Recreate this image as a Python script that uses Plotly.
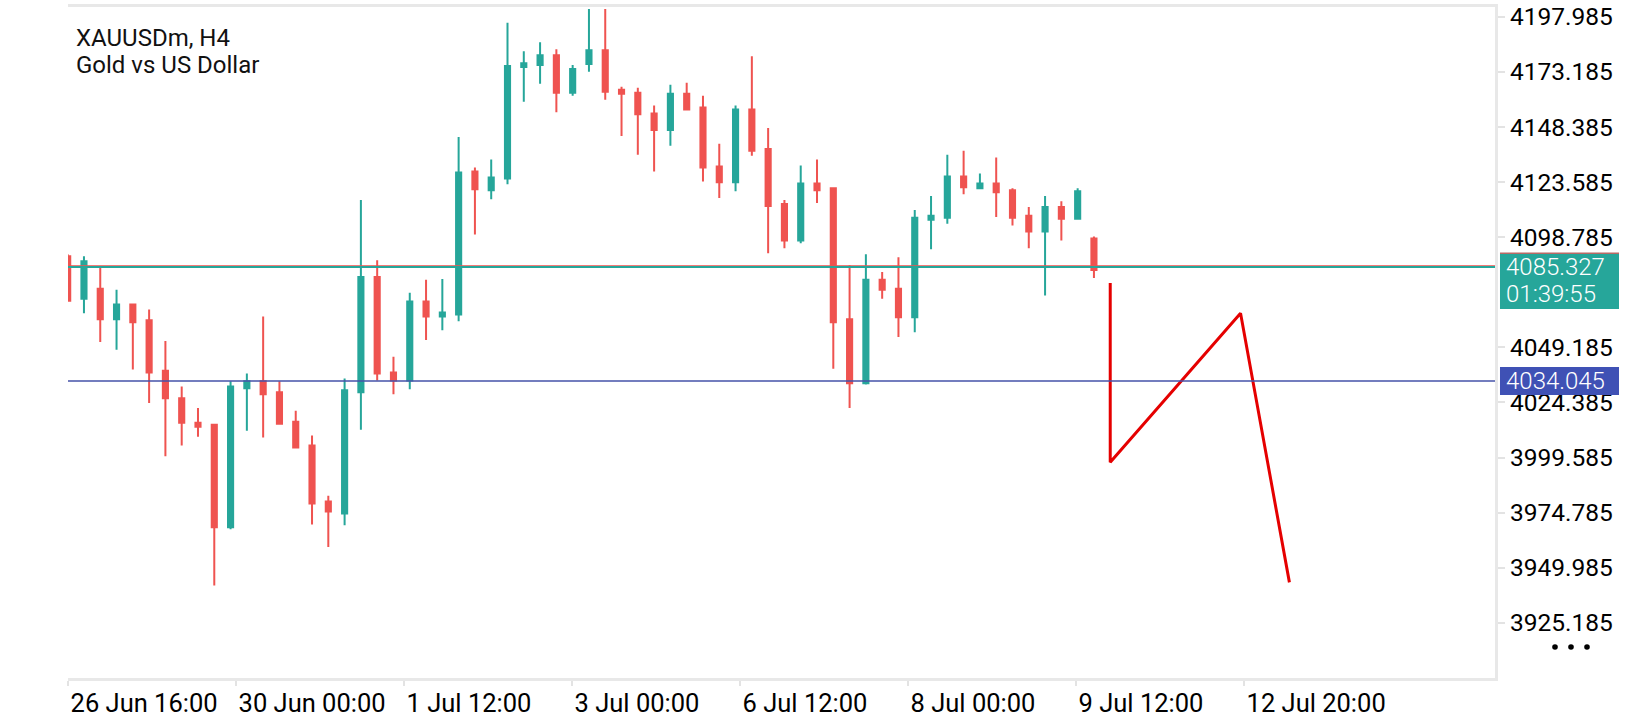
import plotly.graph_objects as go

# H4 candles (bar 0 is cut by the left edge)
opens = [4090.2, 4071.1, 4075.6, 4061.8, 4068.5, 4061.4, 4038.7, 4026.3, 4015.2, 4014.3,
         3968.2, 4030.8, 4033.9, 4029.0, 4015.7, 4005.0, 3979.8, 3974.4, 4029.0, 4080.9,
         4037.9, 4034.3, 4069.8, 4063.1, 4064.0, 4128.3, 4119.9, 4125.2, 4175.4, 4176.3,
         4180.7, 4163.8, 4176.7, 4182.9, 4165.2, 4163.8, 4154.5, 4147.0, 4163.4, 4157.2,
         4130.6, 4123.5, 4156.3, 4138.5, 4113.7, 4097.3, 4123.0, 4120.8, 4061.8, 4033.0,
         4079.6, 4075.6, 4062.7, 4106.6, 4107.5, 4126.1, 4120.8, 4123.0, 4119.9, 4108.4,
         4101.3, 4112.4, 4107.1, 4098.2]
highs = [4091.1, 4090.2, 4084.9, 4075.1, 4068.5, 4066.2, 4052.1, 4031.6, 4021.9, 4014.6,
         4033.9, 4037.4, 4063.1, 4033.9, 4020.6, 4009.5, 3982.4, 4035.2, 4115.5, 4088.4,
         4045.0, 4073.8, 4079.6, 4080.0, 4143.9, 4130.1, 4133.7, 4195.3, 4182.5, 4186.5,
         4183.4, 4176.3, 4201.5, 4201.5, 4166.5, 4166.1, 4158.1, 4167.4, 4168.3, 4162.5,
         4140.8, 4158.1, 4180.2, 4147.9, 4115.5, 4131.0, 4133.7, 4121.3, 4086.2, 4091.1,
         4083.1, 4089.8, 4111.0, 4117.3, 4135.9, 4137.7, 4127.5, 4134.6, 4120.8, 4112.4,
         4117.3, 4115.0, 4120.8, 4099.1]
lows = [4070.2, 4064.5, 4051.6, 4048.1, 4039.2, 4024.1, 4000.2, 4005.0, 4009.0, 3942.0,
        3967.3, 4011.7, 4008.6, 4014.3, 4004.1, 3969.5, 3959.3, 3969.1, 4012.1, 4034.3,
        4028.1, 4030.3, 4052.5, 4056.9, 4060.9, 4100.0, 4115.9, 4122.6, 4159.8, 4167.8,
        4155.0, 4162.5, 4173.2, 4160.7, 4144.3, 4135.9, 4128.3, 4139.9, 4156.3, 4123.9,
        4116.4, 4119.5, 4135.4, 4091.5, 4093.8, 4096.0, 4114.2, 4039.6, 4021.9, 4032.5,
        4071.1, 4053.8, 4056.0, 4093.3, 4104.8, 4118.1, 4120.4, 4107.9, 4104.0, 4093.8,
        4072.5, 4097.3, 4107.1, 4080.4]
closes = [4070.2, 4088.0, 4061.8, 4068.5, 4060.5, 4037.9, 4026.3, 4015.2, 4013.5, 3968.2,
          4031.6, 4033.9, 4028.1, 4014.8, 4004.1, 3978.9, 3975.3, 4029.9, 4080.9, 4037.4,
          4034.3, 4069.8, 4063.1, 4064.9, 4127.9, 4120.4, 4125.7, 4175.8, 4177.1, 4180.7,
          4163.8, 4174.5, 4182.9, 4164.3, 4163.4, 4154.1, 4147.0, 4163.4, 4156.3, 4130.1,
          4123.5, 4156.3, 4137.7, 4112.8, 4097.3, 4123.0, 4119.9, 4060.5, 4033.0, 4079.6,
          4075.1, 4062.7, 4107.5, 4108.4, 4126.1, 4121.3, 4123.0, 4119.0, 4107.5, 4101.3,
          4112.4, 4107.1, 4119.5, 4084.0]
bars = list(range(len(closes)))

# hand drawn zigzag (bar number, price)
zigzag_bar = [64, 64, 72, 75]
zigzag_price = [4078.2, 3997.5, 4064.5, 3943.4]

price_now = 4085.327
countdown = "01:39:55"
level_price = 4034.045

price_ticks = [4197.985, 4173.185, 4148.385, 4123.585, 4098.785, 4049.185,
               4024.385, 3999.585, 3974.785, 3949.985, 3925.185]
time_labels = ["26 Jun 16:00", "30 Jun 00:00", "1 Jul 12:00", "3 Jul 00:00",
               "6 Jul 12:00", "8 Jul 00:00", "9 Jul 12:00", "12 Jul 20:00"]

UP = "#26A69A"
DOWN = "#EF5350"
BLUE = "#3F51B5"
FONT = "Roboto"

fig = go.Figure()
fig.add_trace(go.Candlestick(
    x=bars, open=opens, high=highs, low=lows, close=closes,
    increasing=dict(line=dict(color=UP, width=2), fillcolor=UP),
    decreasing=dict(line=dict(color=DOWN, width=2), fillcolor=DOWN),
    showlegend=False, hoverinfo="skip"))

# price lines
fig.add_shape(type="line", xref="paper", x0=0, x1=1, yref="y", y0=level_price, y1=level_price,
              line=dict(color="#4452A8", width=1.5))
fig.add_shape(type="line", xref="paper", x0=0, x1=1, yref="y", y0=price_now + 0.6, y1=price_now + 0.6,
              line=dict(color=DOWN, width=1))
fig.add_shape(type="line", xref="paper", x0=0, x1=1, yref="y", y0=price_now, y1=price_now,
              line=dict(color=UP, width=2))

fig.add_trace(go.Scatter(x=zigzag_bar, y=zigzag_price, mode="lines",
                         line=dict(color="#E50000", width=3), showlegend=False, hoverinfo="skip"))

# price tags on the right scale
fig.add_shape(type="rect", xref="paper", x0=1.0035, x1=1.0869, yref="y", ysizemode="pixel",
              yanchor=price_now, y0=-42, y1=14, fillcolor=UP, line_width=0, layer="above")
fig.add_shape(type="rect", xref="paper", x0=1.0035, x1=1.0869, yref="y", ysizemode="pixel",
              yanchor=price_now, y0=13, y1=14.5, fillcolor="#B86A66", line_width=0, layer="above")
fig.add_shape(type="rect", xref="paper", x0=1.0035, x1=1.0869, yref="y", ysizemode="pixel",
              yanchor=level_price, y0=-14, y1=14, fillcolor=BLUE, line_width=0, layer="above")
tag_font = dict(family=FONT, size=24, color="white", weight=300)
fig.add_annotation(text=f"{price_now:.3f}", xref="paper", x=1, xanchor="left", xshift=9,
                   yref="y", y=price_now, yanchor="middle", showarrow=False, font=tag_font)
fig.add_annotation(text=countdown, xref="paper", x=1, xanchor="left", xshift=9,
                   yref="y", y=price_now, yanchor="middle", yshift=-27, showarrow=False,
                   font=tag_font)
fig.add_annotation(text=f"{level_price:.3f}", xref="paper", x=1, xanchor="left", xshift=9,
                   yref="y", y=level_price, yanchor="middle", showarrow=False, font=tag_font)

# symbol caption
fig.add_annotation(text="XAUUSDm, H4", xref="paper", x=0, xanchor="left", xshift=6,
                   yref="paper", y=1, yanchor="middle", yshift=-31, showarrow=False,
                   font=dict(family=FONT, size=24, color="#111111"))
fig.add_annotation(text="Gold vs US Dollar", xref="paper", x=0, xanchor="left", xshift=6,
                   yref="paper", y=1, yanchor="middle", yshift=-58, showarrow=False,
                   font=dict(family=FONT, size=24, color="#111111"))

# the little "more" dots under the price scale
for dx in (60, 76, 92):
    fig.add_shape(type="circle", xref="paper", xsizemode="pixel", xanchor=1,
                  x0=dx - 2.8, x1=dx + 2.8, yref="paper", ysizemode="pixel", yanchor=0,
                  y0=31 - 2.8, y1=31 + 2.8, fillcolor="black", line_width=0, layer="above")

tick_step = 10.313
fig.update_layout(
    width=1640, height=720,
    margin=dict(l=68, r=145, t=2, b=37),
    paper_bgcolor="white", plot_bgcolor="white",
    boxgap=0.55,
    font=dict(family=FONT, size=24, color="black"),
    xaxis=dict(range=[0.02, 87.62], rangeslider=dict(visible=False),
               tickvals=[0.025 + k * tick_step for k in range(len(time_labels))],
               ticktext=time_labels, ticklabelposition="outside right",
               ticks="outside", ticklen=5, tickwidth=2, tickcolor="#e3e3e3",
               showline=True, mirror=True, linecolor="#e8e8e8", linewidth=3,
               showgrid=False, zeroline=False,
               tickfont=dict(family=FONT, size=25.5, color="black")),
    yaxis=dict(side="right", range=[3900.35, 4202.4],
               tickvals=price_ticks, ticktext=[f"{v:.3f}" for v in price_ticks],
               ticks="outside", ticklen=7, tickwidth=2, tickcolor="#e3e3e3",
               showline=True, linecolor="#e8e8e8", linewidth=3,
               showgrid=False, zeroline=False,
               tickfont=dict(family=FONT, size=24.5, color="black")),
)

# page body has a default 8px margin; drop it so the figure sits at the window corner
fig.write_html("out.html", config={"displayModeBar": False},
               post_script="document.body.style.margin='0px';")
